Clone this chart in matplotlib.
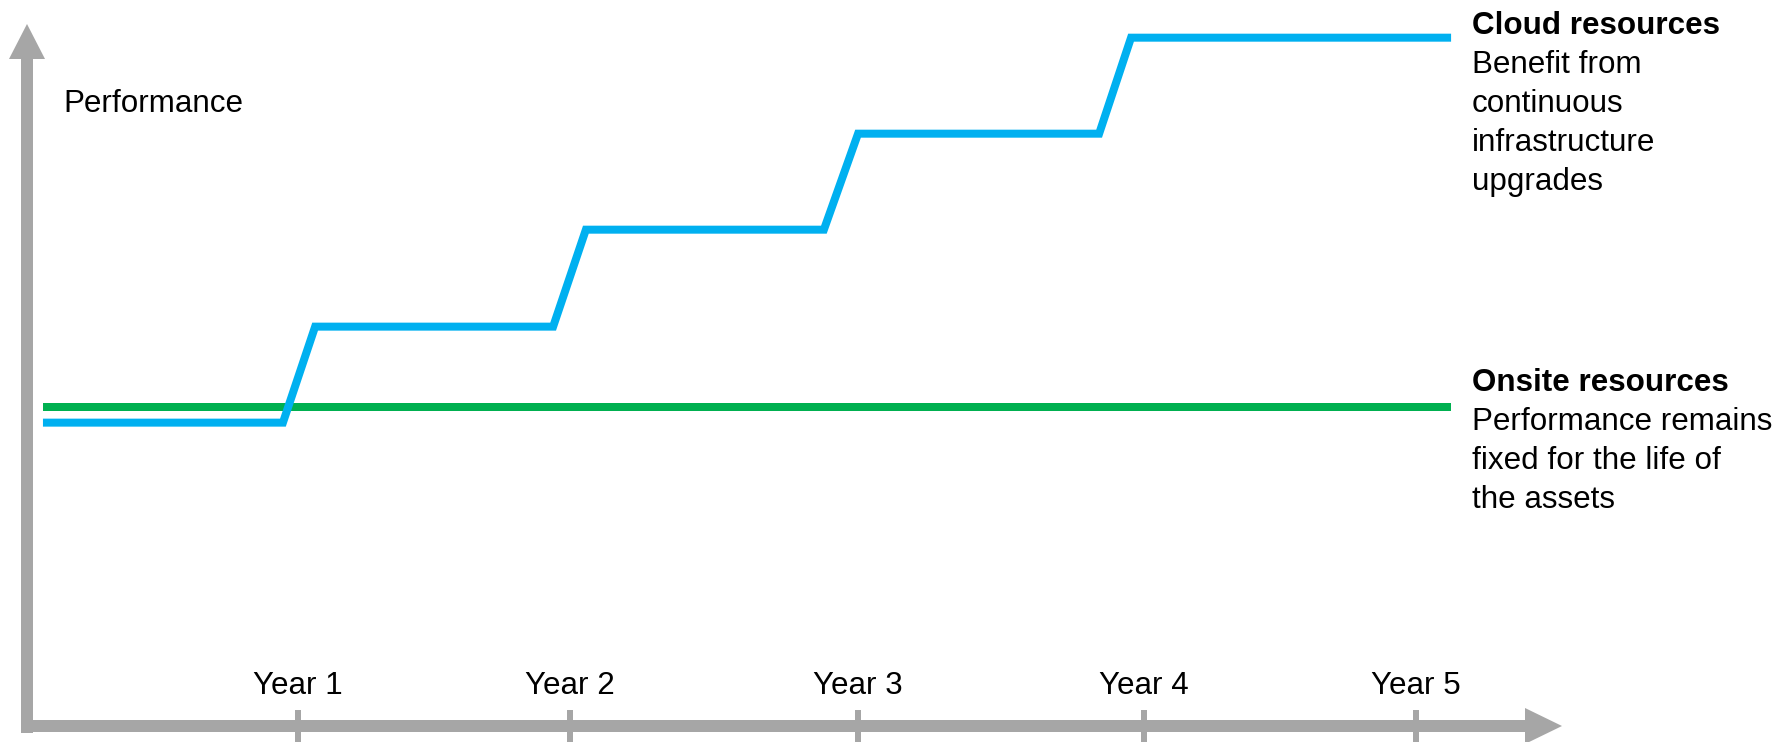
#!/usr/bin/env python3
"""
Step chart: cloud resources vs onsite resources performance over five years
"""

import matplotlib
matplotlib.use('Agg')
import matplotlib.pyplot as plt
from matplotlib.patches import FancyArrow

plt.rcParams['font.family'] = ['Liberation Sans', 'DejaVu Sans']

# data (x in years from the vertical axis, y in performance units)
year_labels = ['Year 1', 'Year 2', 'Year 3', 'Year 4', 'Year 5']
year_ticks = [0.968, 1.939, 2.968, 3.989, 4.961]

cloud_x = [0.057, 0.914, 1.029, 1.879, 1.996, 2.846, 2.968, 3.829, 3.943, 5.086]
cloud_y = [3.16, 3.16, 4.16, 4.16, 5.17, 5.17, 6.17, 6.17, 7.17, 7.17]

onsite_x = [0.057, 5.086]
onsite_y = [3.32, 3.32]

cloud_title = 'Cloud resources'
cloud_text = ['Benefit from', 'continuous', 'infrastructure', 'upgrades']
onsite_title = 'Onsite resources'
onsite_text = ['Performance remains', 'fixed for the life of', 'the assets']

# layout (pixels of the output image)
W, H, DPI = 1779, 742, 100
X0, Y0 = 27, 726          # where the axes cross
PX_X, PX_Y = 280.0, 96.0  # pixels per data unit
GREY = '#a6a6a6'
BLUE = '#00b0f0'
GREEN = '#00b050'
FS = 22.6
PT = 72.0 / DPI
LINE_STEP = 39.0


def dx(px):
    """ pixel column -> data x """
    return (px - X0) / PX_X


def dy(py):
    """ pixel row -> data y """
    return (Y0 - py) / PX_Y


fig = plt.figure(figsize=(W / DPI, H / DPI), dpi=DPI)
ax = fig.add_axes([0, 0, 1, 1])
ax.set_xlim(dx(0), dx(W))
ax.set_ylim(dy(H), dy(0))
ax.axis('off')

# axes arrows
ax.add_patch(FancyArrow(0, dy(733), 0, dy(24) - dy(733), width=12 / PX_X,
                        head_width=36 / PX_X, head_length=35 / PX_Y,
                        length_includes_head=True, color=GREY, lw=0))
ax.add_patch(FancyArrow(dx(21), 0, dx(1562) - dx(21), 0, width=12 / PX_Y,
                        head_width=36 / PX_Y, head_length=37 / PX_X,
                        length_includes_head=True, color=GREY, lw=0))

# ticks and year labels
ax.vlines(year_ticks, dy(H + 2), dy(710), colors=GREY, lw=6 * PT)
for xt, lab in zip(year_ticks, year_labels):
    ax.text(xt, dy(694), lab, ha='center', va='baseline', fontsize=FS)

# series
ax.plot(onsite_x, onsite_y, color=GREEN, lw=8 * PT, solid_capstyle='butt')
ax.plot(cloud_x, cloud_y, color=BLUE, lw=8 * PT, solid_capstyle='butt',
        solid_joinstyle='miter')

# labels
ax.text(dx(63), dy(112), 'Performance', ha='left', va='baseline', fontsize=FS)

tx = dx(1472)
ax.text(tx, dy(34), cloud_title, ha='left', va='baseline', fontsize=FS,
        fontweight='bold')
for i, line in enumerate(cloud_text):
    ax.text(tx, dy(73 + LINE_STEP * i), line, ha='left', va='baseline',
            fontsize=FS)

ax.text(tx, dy(391), onsite_title, ha='left', va='baseline', fontsize=FS,
        fontweight='bold')
for i, line in enumerate(onsite_text):
    ax.text(tx, dy(430 + LINE_STEP * i), line, ha='left', va='baseline',
            fontsize=FS)

fig.savefig('out.png', dpi=DPI)
plt.close(fig)
